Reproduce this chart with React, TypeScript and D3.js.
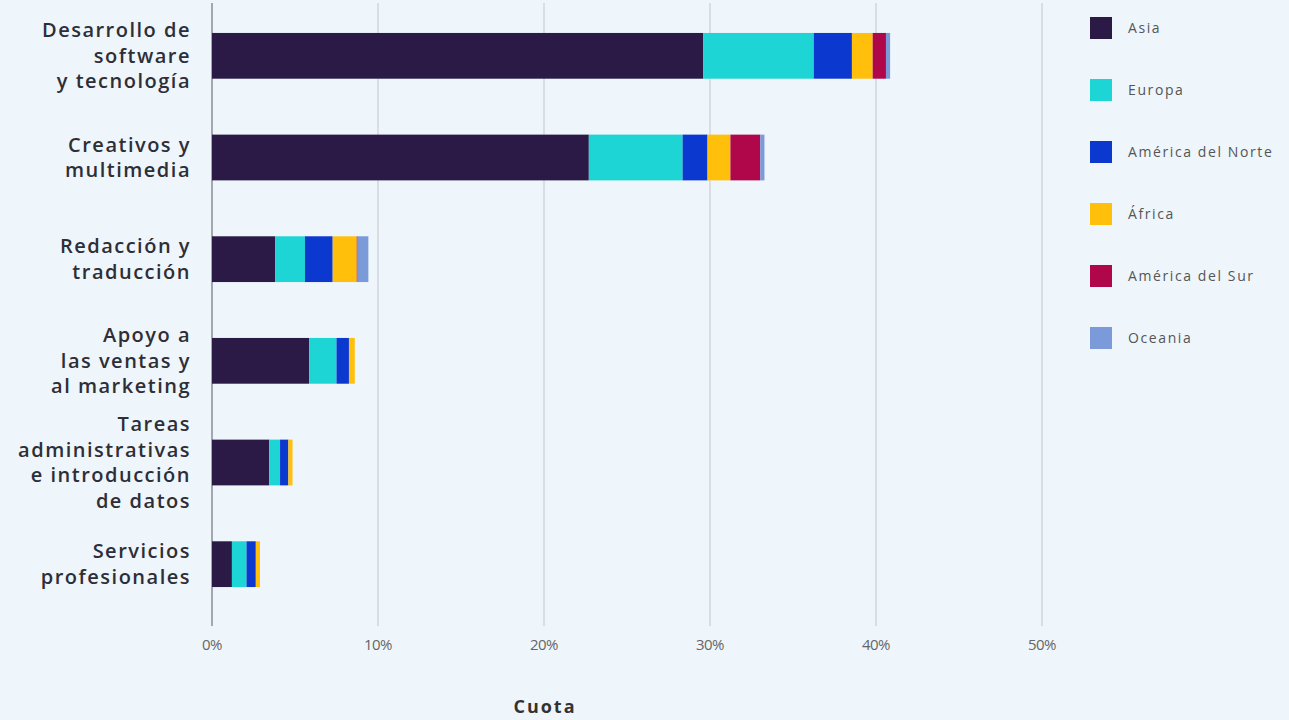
import React from "react";
import * as d3 from "d3";

const categories = [
  ["Desarrollo de", "software", "y tecnología"],
  ["Creativos y", "multimedia"],
  ["Redacción y", "traducción"],
  ["Apoyo a", "las ventas y", "al marketing"],
  ["Tareas", "administrativas", "e introducción", "de datos"],
  ["Servicios", "profesionales"],
];
const regions = ["Asia", "Europa", "América del Norte", "África", "América del Sur", "Oceanía"];
const legendLabels = ["Asia", "Europa", "América del Norte", "África", "América del Sur", "Oceania"];
const colors = ["#2b1a45", "#1dd5d5", "#0b38cf", "#ffbf0a", "#b0074b", "#7a9ad9"];
const asia = [29.6, 22.7, 3.8, 5.85, 3.45, 1.2];
const europa = [6.65, 5.65, 1.8, 1.65, 0.65, 0.88];
const norteamerica = [2.3, 1.5, 1.67, 0.75, 0.5, 0.56];
const africa = [1.25, 1.38, 1.45, 0.35, 0.25, 0.25];
const sudamerica = [0.8, 1.8, 0.05, 0, 0, 0];
const oceania = [0.25, 0.25, 0.65, 0, 0, 0];
const xTicks = [0, 10, 20, 30, 40, 50];

const W = 1289, H = 720;

export default function App() {
  const seriesVals = [asia, europa, norteamerica, africa, sudamerica, oceania];
  const rows = categories.map((c, i) => {
    const r: any = { key: String(i) };
    regions.forEach((reg, j) => (r[reg] = seriesVals[j][i]));
    return r;
  });
  const stack = d3.stack().keys(regions)(rows);
  const x = d3.scaleLinear().domain([0, 50]).range([212, 1042]);
  const y = d3
    .scaleBand()
    .domain(categories.map((_, i) => String(i)))
    .range([5, 615])
    .paddingInner(0.55)
    .paddingOuter(0.275);
  const font = "'Open Sans', 'Noto Sans', sans-serif";
  const lh = 25.5;
  return (
    <svg width={W} height={H} style={{ position: "absolute", left: 0, top: 0, background: "#eef5fb" }}>
      <rect x={0} y={0} width={W} height={H} fill="#eef5fb" />
      {xTicks.map((t) => (
        <line key={t} x1={x(t)} x2={x(t)} y1={3} y2={626} stroke={t === 0 ? "#8a8d96" : "#c3c7cf"} strokeWidth={t === 0 ? 1.5 : 1} />
      ))}
      {xTicks.map((t) => (
        <text key={"l" + t} x={x(t)} y={650} textAnchor="middle" fontFamily={font} fontSize={15} fill="#666" letterSpacing={-0.6}>
          {t + "%"}
        </text>
      ))}
      <text x={545} y={713} textAnchor="middle" fontFamily={font} fontSize={18} fontWeight={700} fill="#333" letterSpacing={2}>
        Cuota
      </text>
      {stack.map((s, j) => (
        <g key={j} fill={colors[j]}>
          {s.map((d, i) => (
            <rect key={i} x={x(d[0])} y={y(String(i))!} width={Math.max(0, x(d[1]) - x(d[0]))} height={y.bandwidth()} />
          ))}
        </g>
      ))}
      {categories.map((lines, i) => {
        const cy = y(String(i))! + y.bandwidth() / 2;
        const start = cy - ((lines.length - 1) * lh) / 2;
        return (
          <text key={i} textAnchor="end" fontFamily={font} fontSize={20} fontWeight={600} fill="#2e2e36" letterSpacing={1.5}>
            {lines.map((ln, k) => (
              <tspan key={k} x={191} y={start + k * lh} dy="0.35em">
                {ln}
              </tspan>
            ))}
          </text>
        );
      })}
      {legendLabels.map((l, j) => (
        <g key={l} transform={`translate(1090, ${17 + j * 62})`}>
          <rect width={22} height={22} fill={colors[j]} />
          <text x={38} y={11} dy="0.35em" fontFamily={font} fontSize={14} fill="#555" letterSpacing={1.6}>
            {l}
          </text>
        </g>
      ))}
    </svg>
  );
}
